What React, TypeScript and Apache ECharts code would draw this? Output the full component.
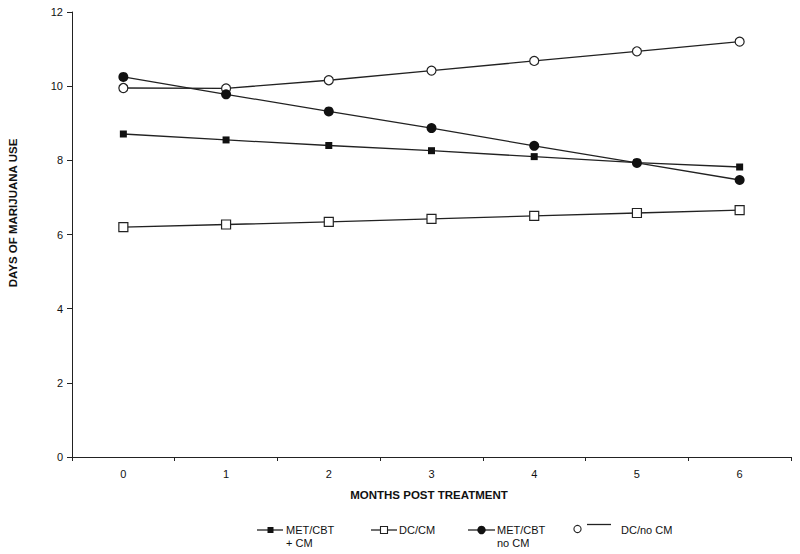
import React, { useEffect, useRef } from "react";
import * as echarts from "echarts";

const months = ["0", "1", "2", "3", "4", "5", "6"];
const metCbtCm = [8.71, 8.55, 8.4, 8.26, 8.1, 7.94, 7.82];
const dcCm = [6.2, 6.27, 6.34, 6.42, 6.5, 6.58, 6.66];
const metCbtNoCm = [10.25, 9.78, 9.32, 8.87, 8.39, 7.93, 7.47];
const dcNoCm = [9.95, 9.94, 10.16, 10.42, 10.68, 10.94, 11.2];

const FONT = "Liberation Sans, Arial, sans-serif";
const INK = "#222";

export default function App() {
  const ref = useRef<HTMLDivElement>(null);
  useEffect(() => {
    if (!ref.current) return;
    const chart = echarts.init(ref.current, undefined, { renderer: "svg" });
    const lineStyle = { color: INK, width: 1.3 };
    const textStyle = (x: number, y: number, text: string, extra: any = {}) => ({
      type: "text",
      x,
      y,
      style: {
        text,
        fill: "#111",
        font: `11px ${FONT}`,
        textVerticalAlign: "middle",
        lineHeight: 13,
        ...extra,
      },
    });
    chart.setOption({
      animation: false,
      backgroundColor: "#fff",
      grid: { left: 72, right: 9, top: 12, bottom: 97, containLabel: false },
      xAxis: {
        type: "category",
        data: months,
        boundaryGap: true,
        axisLine: { lineStyle: { color: INK, width: 1 } },
        axisTick: { show: true, alignWithLabel: false, length: 4, lineStyle: { color: INK } },
        axisLabel: { color: "#111", fontSize: 11, fontFamily: FONT, margin: 11 },
        splitLine: { show: false },
      },
      yAxis: {
        type: "value",
        min: 0,
        max: 12,
        interval: 2,
        axisLine: { show: true, lineStyle: { color: INK, width: 1 } },
        axisTick: { show: true, length: 5, lineStyle: { color: INK } },
        axisLabel: { color: "#111", fontSize: 11, fontFamily: FONT, margin: 9 },
        splitLine: { show: false },
      },
      series: [
        {
          name: "DC/no CM",
          type: "line",
          data: dcNoCm,
          symbol: "circle",
          symbolSize: 9,
          lineStyle,
          itemStyle: { color: "#fff", borderColor: INK, borderWidth: 1.2 },
        },
        {
          name: "MET/CBT + CM",
          type: "line",
          data: metCbtCm,
          symbol: "rect",
          symbolSize: 7,
          lineStyle,
          itemStyle: { color: "#111", borderColor: "#111", borderWidth: 0 },
        },
        {
          name: "DC/CM",
          type: "line",
          data: dcCm,
          symbol: "rect",
          symbolSize: 9,
          lineStyle,
          itemStyle: { color: "#fff", borderColor: INK, borderWidth: 1.2 },
        },
        {
          name: "MET/CBT no CM",
          type: "line",
          data: metCbtNoCm,
          symbol: "circle",
          symbolSize: 10,
          lineStyle,
          itemStyle: { color: "#111", borderColor: "#111", borderWidth: 0 },
        },
      ],
      graphic: [
        {
          type: "text",
          x: 13,
          y: 213,
          rotation: Math.PI / 2,
          style: {
            text: "DAYS OF MARIJUANA USE",
            fill: "#111",
            font: `bold 11.5px ${FONT}`,
            textAlign: "center",
            textVerticalAlign: "middle",
          },
        },
        {
          type: "text",
          x: 429,
          y: 495,
          style: {
            text: "MONTHS POST TREATMENT",
            fill: "#111",
            font: `bold 11.5px ${FONT}`,
            textAlign: "center",
            textVerticalAlign: "middle",
          },
        },
        // legend item 1
        { type: "line", shape: { x1: 257, y1: 530, x2: 283, y2: 530 }, style: { stroke: INK, lineWidth: 1.3 } },
        { type: "rect", shape: { x: 267.5, y: 527, width: 6, height: 6 }, style: { fill: "#111" } },
        textStyle(286, 530, "MET/CBT"),
        textStyle(286, 543, "+ CM"),
        // legend item 2
        { type: "line", shape: { x1: 371, y1: 530, x2: 397, y2: 530 }, style: { stroke: INK, lineWidth: 1.3 } },
        { type: "rect", shape: { x: 380.5, y: 526.5, width: 7, height: 7 }, style: { fill: "#fff", stroke: INK, lineWidth: 1.1 } },
        textStyle(399, 530, "DC/CM"),
        // legend item 3
        { type: "line", shape: { x1: 468, y1: 530, x2: 495, y2: 530 }, style: { stroke: INK, lineWidth: 1.3 } },
        { type: "circle", shape: { cx: 481.5, cy: 530, r: 4.2 }, style: { fill: "#111" } },
        textStyle(497, 530, "MET/CBT"),
        textStyle(497, 543, "no CM"),
        // legend item 4
        { type: "circle", shape: { cx: 577.5, cy: 529, r: 3.6 }, style: { fill: "#fff", stroke: INK, lineWidth: 1.1 } },
        { type: "line", shape: { x1: 587, y1: 524.5, x2: 611, y2: 524.5 }, style: { stroke: INK, lineWidth: 1.3 } },
        textStyle(621, 530, "DC/no CM"),
      ],
    });
    return () => chart.dispose();
  }, []);
  return <div ref={ref} style={{ width: 800, height: 554, position: "absolute", left: 0, top: 0 }} />;
}
